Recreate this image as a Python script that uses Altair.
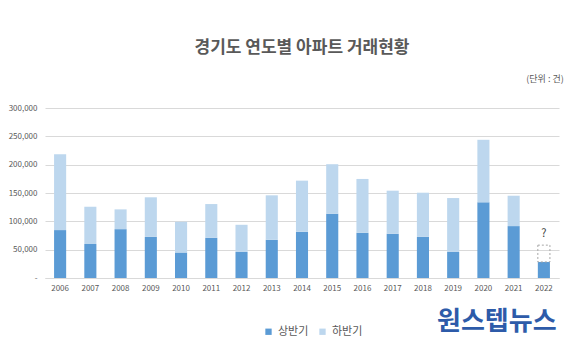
import altair as alt
import pandas as pd

years = [str(y) for y in range(2006, 2023)]
first_half = [84500, 60200, 86200, 72600, 45000, 70800, 46000, 67300, 81500,
              113300, 79700, 77900, 72600, 46000, 133500, 91600, 28300]
second_half = [134000, 65500, 34900, 69800, 54200, 59700, 47900, 78600, 90300,
               87500, 95100, 76200, 77900, 95100, 110400, 53600, None]
y_ticks = [0, 50000, 100000, 150000, 200000, 250000, 300000]
placeholder_top = 58000  # dashed box for unknown 2022 second half

rows = []
for y, a, b in zip(years, first_half, second_half):
    rows.append({"year": y, "half": "상반기", "value": a, "ord": 0})
    if b is not None:
        rows.append({"year": y, "half": "하반기", "value": b, "ord": 1})
df = pd.DataFrame(rows)

ph = pd.DataFrame({"year": ["2022"], "lo": [first_half[-1]], "hi": [placeholder_top], "q": ["?"]})

FONT = "Noto Sans CJK KR"
GRAY = "#595959"

xscale = alt.Scale(domain=years, paddingInner=0.6, paddingOuter=0.3)
yscale = alt.Scale(domain=[0, 300000])
xaxis = alt.Axis(title=None, labelAngle=0, ticks=False, domain=True,
                 domainColor="#D9D9D9", labelFontSize=8, labelColor=GRAY,
                 labelFont=FONT, labelPadding=6)
yaxis = alt.Axis(title=None, values=y_ticks,
                 labelExpr="datum.value == 0 ? '-' : format(datum.value, ',')",
                 labelOverlap=False, ticks=False, domain=False, gridColor="#D9D9D9",
                 labelFontSize=8, labelColor=GRAY, labelFont=FONT, labelPadding=8)

bars = alt.Chart(df).mark_bar().encode(
    x=alt.X("year:N", scale=xscale, sort=years, axis=xaxis),
    y=alt.Y("value:Q", stack="zero", scale=yscale, axis=yaxis),
    color=alt.Color("half:N", scale=alt.Scale(domain=["상반기", "하반기"], range=["#5B9BD5", "#BDD7EE"]),
                    legend=alt.Legend(title=None, orient="none", direction="horizontal",
                                      legendX=218, legendY=218, symbolType="square",
                                      symbolSize=40, labelFontSize=11, labelColor=GRAY,
                                      labelFont=FONT, columnPadding=8, symbolStrokeWidth=0)),
    order=alt.Order("ord:Q", sort="ascending"),
)

box = alt.Chart(ph).mark_bar(fill="white", fillOpacity=0, stroke="#A6A6A6",
                             strokeDash=[2, 2], strokeWidth=1).encode(
    x=alt.X("year:N", scale=xscale, sort=years, axis=xaxis),
    y=alt.Y("lo:Q", scale=yscale, axis=yaxis),
    y2="hi:Q",
)

qmark = alt.Chart(ph).mark_text(baseline="bottom", dy=-6, fontSize=11, color="#404040", font=FONT).encode(
    x=alt.X("year:N", scale=xscale, sort=years, axis=xaxis),
    y=alt.Y("hi:Q", scale=yscale, axis=yaxis),
    text="q:N",
)

unit = alt.Chart(pd.DataFrame({"t": ["(단위 : 건)"]})).mark_text(
    fontSize=9, color=GRAY, font=FONT, align="center", baseline="middle").encode(
    x=alt.value(500), y=alt.value(-29), text="t:N")

logo = alt.Chart(pd.DataFrame({"t": ["원스텝뉴스"]})).mark_text(
    fontSize=26, fontWeight="bold", color="#2D5BA9", font=FONT, align="left", baseline="middle").encode(
    x=alt.value(392), y=alt.value(214), text="t:N")

chart = alt.layer(bars, box, qmark, unit, logo).properties(
    width=514, height=170,
    autosize=alt.AutoSizeParams(type="none"),
    padding={"left": 45, "top": 108, "right": 19, "bottom": 72},
    title=alt.Title("경기도 연도별 아파트 거래현황", fontSize=17, font=FONT, color=GRAY,
                    fontWeight="bold", anchor="middle", offset=18),
).configure_view(stroke=None)

chart.save("out.html", embed_options={"renderer": "svg", "actions": False})
